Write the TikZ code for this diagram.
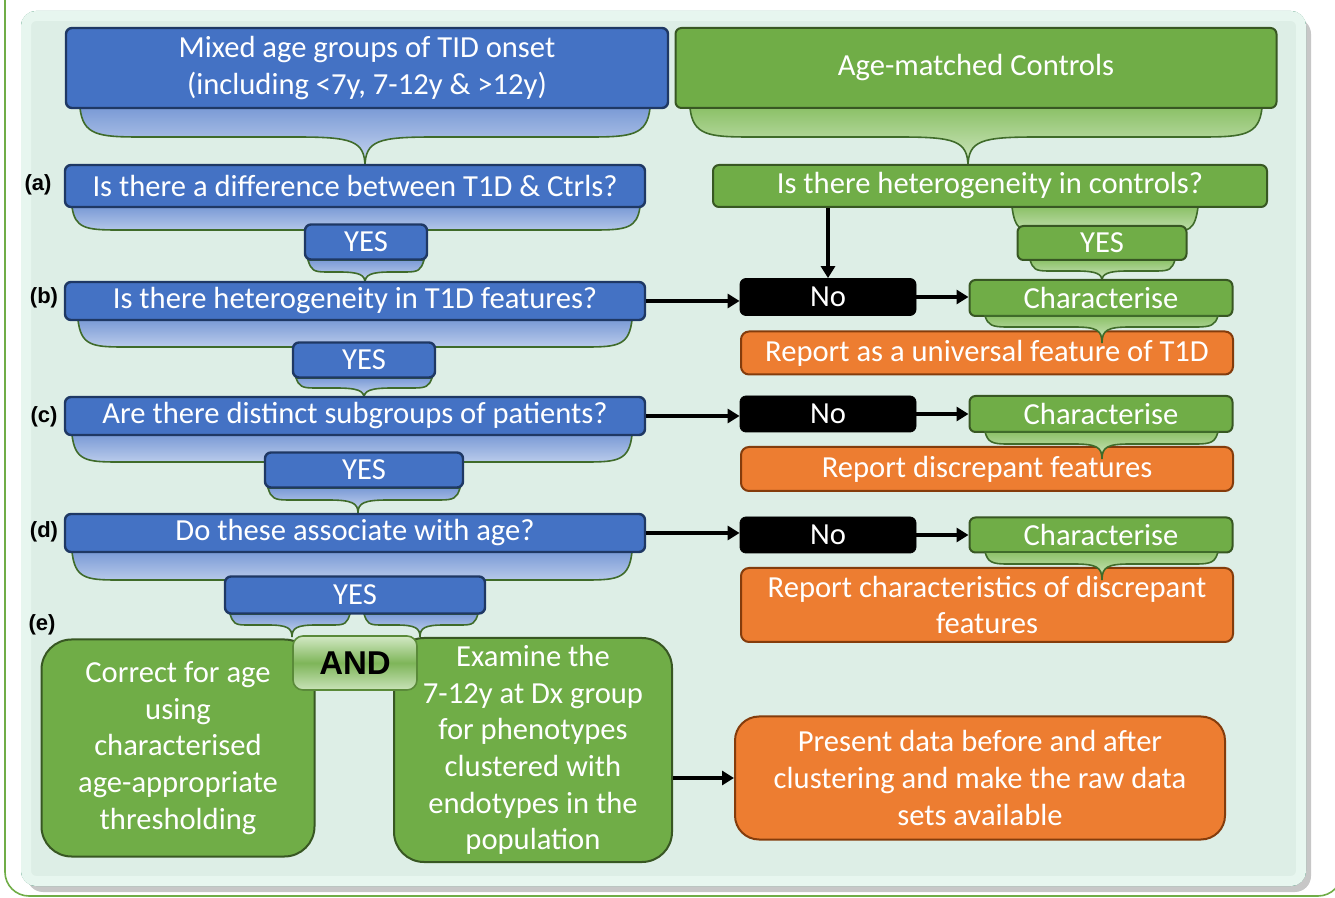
\documentclass[tikz,border=0pt]{standalone}
\usepackage{fontspec}
\setmainfont{Carlito}
\newfontfamily\lblfont{Liberation Sans}
\usepackage{tikz}
\usetikzlibrary{arrows.meta,positioning,calc}
\definecolor{qblue}{HTML}{4472C4}
\definecolor{qnavy}{HTML}{1F3864}
\definecolor{cgreen}{HTML}{70AD47}
\definecolor{cdark}{HTML}{385723}
\definecolor{rorange}{HTML}{ED7D31}
\definecolor{rbrown}{HTML}{843C0C}
\definecolor{tailline}{HTML}{3F6B2A}
\definecolor{tbtop}{HTML}{7B9BD6}
\definecolor{tbbot}{HTML}{CCD9F1}
\definecolor{tgtop}{HTML}{8CC168}
\definecolor{tgbot}{HTML}{D3E9C5}
\definecolor{panelfill}{HTML}{DDEEE6}
\definecolor{panelrim}{HTML}{E7F6EF}
\definecolor{panelline}{HTML}{3A8E6E}

% curly tail under a box: style, x left, x right, y top, y bottom, x tip, y tip, tip width, side radius
\newcommand{\tail}[9]{%
  \path[#1] (#2,#4) .. controls (#2+3,#5-2) and (#2+0.3*#9,#5) .. (#2+#9,#5)
    -- (#6-#8,#5) .. controls (#6-0.2*#8,#5) and (#6,#5+3) .. (#6,#7)
    .. controls (#6,#5+3) and (#6+0.2*#8,#5) .. (#6+#8,#5)
    -- (#3-#9,#5) .. controls (#3-0.3*#9,#5) and (#3-3,#5-2) .. (#3,#4) -- cycle;}

\begin{document}
\begin{tikzpicture}[x=0.5pt, y=-0.5pt,
    txt/.style={font=\fontsize{15.3}{18.3}\selectfont, text=white, align=center, inner sep=0pt},
    qbox/.style={txt, fill=qblue, draw=qnavy, line width=1.2pt, rounded corners=3pt},
    gbox/.style={txt, fill=cgreen, draw=cdark, line width=1pt, rounded corners=3pt},
    obox/.style={txt, fill=rorange, draw=rbrown, line width=1pt, rounded corners=4pt},
    nobox/.style={txt, fill=black, draw=black, rounded corners=3pt},
    andbox/.style={draw=cgreen!80!black, line width=0.8pt, rounded corners=5pt,
      top color=tgbot, bottom color=tgbot!90!cgreen, middle color=cgreen!90!white,
      font=\lblfont\bfseries\fontsize{16.5}{16.5}\selectfont, inner sep=0pt},
    lbl/.style={font=\lblfont\bfseries\fontsize{11}{11}\selectfont, inner sep=0pt},
    tailb/.style={draw=tailline, line width=0.8pt, top color=tbtop, bottom color=tbbot},
    tailg/.style={draw=tailline, line width=0.8pt, top color=tgtop, bottom color=tgbot},
    flow/.style={line width=2pt, -{Triangle[length=6pt,width=7pt]}}]
\useasboundingbox (0,0) rectangle (1335,898);

% page frame and panel
\draw[cgreen, line width=0.8pt, rounded corners=12pt] (5,-30) rectangle (1342,896);
\fill[black!22, rounded corners=8pt] (27,18) rectangle (1311,892);
\draw[panelline, line width=1pt, fill=panelfill, rounded corners=7pt] (22,12) rectangle (1305,885);
\draw[panelrim, line width=5pt, rounded corners=5pt] (26,16) rectangle (1301,881);

% tails (left column)
\tail{tailb}{80}{650}{108}{137}{365}{167}{70}{60}
\tail{tailb}{72}{640}{207}{230}{365}{240}{30}{45}
\tail{tailb}{308}{424}{260}{272}{365}{283}{26}{18}
\tail{tailb}{78}{632}{320}{347}{364}{355}{30}{45}
\tail{tailb}{296}{432}{378}{388}{364}{398}{28}{18}
\tail{tailb}{72}{632}{435}{462}{358}{470}{30}{45}
\tail{tailb}{268}{460}{488}{500}{358}{513}{30}{20}
\tail{tailb}{72}{632}{552}{580}{355}{590}{30}{45}
\tail{tailb}{230}{350}{614}{625}{292}{637}{24}{16}
\tail{tailb}{364}{478}{614}{625}{420}{637}{24}{16}

% tails (right column)
\tail{tailg}{690}{1262}{108}{137}{968}{167}{70}{60}
\tail{tailg}{1012}{1198}{207}{232}{1102}{240}{30}{30}
\tail{tailg}{1030}{1175}{260}{271}{1102}{281}{26}{18}

% question column
\node[qbox, minimum width=301pt, minimum height=40pt] (mixed) at (367,68)
  {Mixed age groups of TID onset\\(including <7y, 7-12y \& >12y)};
\node[qbox, minimum width=290pt, minimum height=21pt] (qa) at (355,186)
  {Is there a difference between T1D \& Ctrls?};
\node[qbox, minimum width=61pt, minimum height=17.5pt] (yesa) at (366,242) {YES};
\node[qbox, minimum width=290pt, minimum height=19pt] (qb) at (355,301)
  {Is there heterogeneity in T1D features?};
\node[qbox, minimum width=71pt, minimum height=17.5pt] (yesb) at (364,360) {YES};
\node[qbox, minimum width=290pt, minimum height=19pt] (qc) at (355,416)
  {Are there distinct subgroups of patients?};
\node[qbox, minimum width=99pt, minimum height=17.5pt] (yesc) at (364,470) {YES};
\node[qbox, minimum width=290pt, minimum height=19pt] (qd) at (355,533)
  {Do these associate with age?};
\node[qbox, minimum width=130pt, minimum height=18.5pt] (yesd) at (355,595) {YES};

\node[lbl] (la) at (38,185) {(a)};
\node[lbl] (lb) at (44,298) {(b)};
\node[lbl] (lc) at (44,417) {(c)};
\node[lbl] (ld) at (44,532) {(d)};
\node[lbl] (le) at (42,625) {(e)};

% outcome (e)
\node[gbox, rounded corners=15pt, minimum width=136.5pt, minimum height=108.5pt] (correct) at (178,748)
  {Correct for age\\using\\characterised\\age-appropriate\\thresholding};
\node[gbox, rounded corners=15pt, minimum width=139pt, minimum height=112pt] (examine) at (533,750)
  {Examine the\\7-12y at Dx group\\for phenotypes\\clustered with\\endotypes in the\\population};
\node[andbox, minimum width=62pt, minimum height=27pt] (and) at (355,663) {AND};
\node[obox, rounded corners=12pt, minimum width=245pt, minimum height=61.5pt] (present) at (980,778)
  {Present data before and after\\clustering and make the raw data\\sets available};

% control column
\node[gbox, minimum width=300.5pt, minimum height=40pt] (ctrl) at (976,68) {Age-matched Controls};
\node[gbox, minimum width=277pt, minimum height=21pt] (ctrlq) at (990,186)
  {Is there heterogeneity in controls?};
\node[gbox, minimum width=84.5pt, minimum height=17pt] (cyes) at (1102,243) {YES};

% no branches
\node[nobox, minimum width=88pt, minimum height=18.5pt] (nob) at (828,297) {No};
\node[gbox, minimum width=131.5pt, minimum height=18pt] (charb) at (1101,298) {Characterise};
\node[obox, minimum width=246pt, minimum height=21.5pt] (repb) at (987,353)
  {Report as a universal feature of T1D};
\node[nobox, minimum width=88pt, minimum height=18pt] (noc) at (828,414) {No};
\node[gbox, minimum width=131.5pt, minimum height=18pt] (charc) at (1101,414) {Characterise};
\node[obox, minimum width=246pt, minimum height=22pt] (repc) at (987,469)
  {Report discrepant features};
\node[nobox, minimum width=88pt, minimum height=18pt] (nod) at (828,535) {No};
\node[gbox, minimum width=131.5pt, minimum height=17.5pt] (chard) at (1101,535) {Characterise};
\node[obox, minimum width=246pt, minimum height=37pt] (repd) at (987,605)
  {Report characteristics of discrepant\\features};

% tails under Characterise
\tail{tailg}{985}{1218}{316}{327}{1102}{343}{28}{22}
\tail{tailg}{985}{1218}{432}{444}{1102}{459}{28}{22}
\tail{tailg}{985}{1218}{552}{564}{1102}{580}{28}{22}

% arrows
\draw[flow] (ctrlq.south -| nob.north) -- (nob.north);
\draw[flow] (qb.east) -- (qb.east -| nob.west);
\draw[flow] (nob.east) -- (nob.east -| charb.west);
\draw[flow] (qc.east) -- (qc.east -| noc.west);
\draw[flow] (noc.east) -- (noc.east -| charc.west);
\draw[flow] (qd.east) -- (qd.east -| nod.west);
\draw[flow] (nod.east) -- (nod.east -| chard.west);
\draw[flow] (present.west -| examine.east) -- (present.west);
\end{tikzpicture}
\end{document}
